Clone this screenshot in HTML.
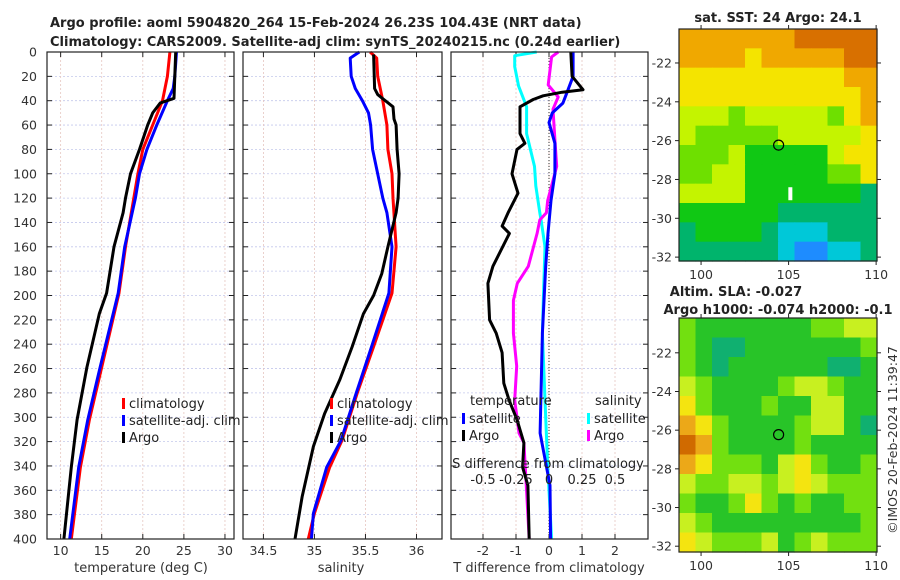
<!DOCTYPE html>
<html><head><meta charset="utf-8"><style>
body{margin:0;background:#fff}
svg{display:block;font-family:"DejaVu Sans","Liberation Sans",sans-serif}
</style></head><body>
<svg id="c" width="900" height="580" viewBox="0 0 900 580"></svg>
<script>
// ---------- data ----------
const tClimDepth=[0,20,40,60,80,100,120,160,198,259,302,341,400];
const tClimVal=[23.3,23.0,22.4,21.2,20.0,19.4,18.9,17.9,17.1,15.0,13.5,12.4,11.3];
const tSatDepth=[0,20,30,40,60,80,100,120,160,198,259,302,341,400];
const tSatVal=[24.1,23.9,23.7,23.0,21.7,20.5,19.6,19.1,17.8,17.0,14.8,13.3,12.2,11.1];
const tArgoDepth=[0,20,38,42,50,60,80,100,120,132,160,198,215,259,302,341,400];
const tArgoVal=[24.0,23.9,23.8,22.1,21.2,20.6,19.6,18.5,17.9,17.6,16.5,15.6,14.7,13.2,12.0,11.3,10.4];
const sClimDepth=[0,5,20,40,60,80,100,120,160,198,242,280,319,341,379,400];
const sClimVal=[35.545,35.61,35.62,35.67,35.71,35.72,35.76,35.77,35.8,35.76,35.58,35.42,35.27,35.15,35.0,34.94];
const sSatDepth=[0,5,20,30,40,50,60,80,100,120,132,160,198,242,280,319,341,379,400];
const sSatVal=[35.44,35.35,35.36,35.40,35.47,35.53,35.55,35.57,35.62,35.67,35.71,35.76,35.73,35.56,35.41,35.26,35.12,34.99,34.97];
const sArgoDepth=[2,30,35,45,55,60,80,100,120,132,160,182,200,215,242,269,297,324,365,400];
const sArgoVal=[35.58,35.59,35.62,35.77,35.78,35.80,35.81,35.83,35.82,35.80,35.72,35.66,35.58,35.48,35.37,35.25,35.10,34.99,34.88,34.81];
const dtSatDepth=[0,20,33,42,50,58,75,100,122,149,176,231,313,356,400];
const dtSatVal=[0.73,0.73,0.55,0.42,0.1,0,0.18,0.18,0.06,-0.03,-0.1,-0.2,-0.27,0.03,0.05];
const dtArgoDepth=[0,20,31,33,36,39,45,67,75,80,100,116,132,143,149,176,190,220,231,247,272,286,302,321,341,356,400];
const dtArgoVal=[0.66,0.7,1.03,0.4,-0.18,-0.48,-0.88,-0.88,-0.73,-0.97,-1.12,-0.94,-1.24,-1.42,-1.2,-1.7,-1.85,-1.8,-1.6,-1.42,-1.37,-1.21,-0.97,-0.76,-0.8,-0.64,-0.6];
const dsSatDepth=[0,3,12,28,45,67,94,110,132,138,160,193,231,286,340,400];
const dsSatVal=[-0.093,-0.26,-0.26,-0.23,-0.17,-0.17,-0.11,-0.1,-0.07,-0.06,-0.03,-0.04,-0.05,-0.03,-0.01,0.02];
const dsArgoDepth=[0,4,27,37,47,72,94,122,132,138,149,176,190,204,231,258,286,313,321,340,400];
const dsArgoVal=[0.07,0.02,-0.006,0.07,0.03,0.045,0.058,-0.01,-0.02,-0.07,-0.09,-0.157,-0.24,-0.27,-0.27,-0.245,-0.26,-0.227,-0.19,-0.18,-0.15];
const depthTicks=[0,20,40,60,80,100,120,140,160,180,200,220,240,260,280,300,320,340,360,380,400];
const tTicks=[10,15,20,25,30];
const sTicks=[34.5,35,35.5,36];
const dTTicks=[-2,-1,0,1,2];
const dSTicks=[-0.5,-0.25,0,0.25,0.5];
const lonTicks=[100,105,110];
const latTicks=[-22,-24,-26,-28,-30,-32];
// map grids (color class 0=blue .. 8=dark orange), 12 rows (north->south) x 12 cols (west->east)
const sstGrid=[
[7,7,7,7,7,7,7,8,8,8,8,8],
[7,7,7,7,6,7,7,7,7,7,8,8],
[6,6,6,6,6,6,6,6,6,6,7,7],
[6,6,6,6,6,6,6,6,6,6,6,7],
[5,5,5,4,5,5,5,5,5,4,6,7],
[5,4,4,4,4,4,5,5,5,5,5,6],
[4,4,4,5,3,3,3,3,3,5,6,6],
[4,4,5,5,3,3,3,3,3,4,4,6],
[5,5,5,5,3,3,3,3,3,3,3,2],
[3,3,3,3,3,3,2,2,2,2,2,2],
[2,3,3,3,3,2,1,1,1,2,2,2],
[2,2,2,2,2,2,1,0,0,1,1,2]];
const slaGrid=[
[4,3,3,3,3,3,3,3,4,4,5,5],
[4,3,2,2,3,3,3,3,3,3,3,4],
[4,3,2,3,3,3,3,3,3,2,2,3],
[5,4,3,3,3,3,4,5,5,4,3,3],
[6,4,3,3,3,4,3,3,5,5,3,3],
[7,6,4,3,3,3,3,4,5,5,3,2],
[8,7,4,3,3,3,3,4,3,3,3,3],
[7,6,4,4,4,3,5,6,4,3,3,4],
[5,4,4,5,5,4,5,6,5,4,4,4],
[4,3,3,4,6,4,3,4,3,3,4,4],
[5,4,3,3,3,3,3,3,3,3,3,4],
[6,5,4,4,4,5,3,4,5,4,4,4]];
const argoLon=104.43, argoLat=-26.23;

// ---------- helpers ----------
const NS="http://www.w3.org/2000/svg";
const svg=document.getElementById('c');
function el(tag,attrs,parent,txt){const e=document.createElementNS(NS,tag);for(const k in attrs)e.setAttribute(k,attrs[k]);if(txt!==undefined)e.textContent=txt;(parent||svg).appendChild(e);return e;}
const Y0=52,Y1=539;
const yD=d=>Y0+(d/400)*(Y1-Y0);
function lin(d0,d1,r0,r1){return v=>r0+(v-d0)/(d1-d0)*(r1-r0);}

function panel(name,x0,x1,xs,xticks,labels){
  const g=el('g',{},svg);
  
  
  depthTicks.forEach(d=>{
    const y=yD(d);
    const l=el('line',{x1:x0,x2:x1,y1:y,y2:y,stroke:'#c4c8ec','stroke-width':0.8,'stroke-dasharray':'2,2'},g);
    
    el('line',{x1:x0,x2:x0+5,y1:y,y2:y,stroke:'#222'},g);
    el('line',{x1:x1-5,x2:x1,y1:y,y2:y,stroke:'#222'},g);
  });
  xticks.forEach((t,i)=>{
    const x=xs(t);
    const l=el('line',{x1:x,x2:x,y1:Y0,y2:Y1,stroke:'#e6c6c0','stroke-width':0.8,'stroke-dasharray':'2,2'},g);
    
    el('line',{x1:x,x2:x,y1:Y1,y2:Y1-5,stroke:'#222'},g);
    el('line',{x1:x,x2:x,y1:Y0,y2:Y0+5,stroke:'#222'},g);
    const tx=el('text',{x:x,y:555,'font-size':12.5,'text-anchor':'middle',fill:'#333'},g,labels?labels[i]:String(t));
    
  });
  return g;
}
function series(g,name,depths,vals,xs,color,w){
  const p=el('polyline',{points:depths.map((d,i)=>xs(vals[i]).toFixed(1)+','+yD(d).toFixed(1)).join(' '),fill:'none',stroke:color,'stroke-width':w||3,'stroke-linejoin':'round'},g);
  
  
}
function frame(g,x0,x1){const r=el('rect',{x:x0,y:Y0,width:x1-x0,height:Y1-Y0,fill:'none',stroke:'#222','stroke-width':1.2},g);}
function txt(x,y,s,attrs,name){const t=el('text',Object.assign({x:x,y:y,'font-size':13,fill:'#222'},attrs||{}),svg,s);return t;}
function legItem(g,x,y,color,label,name){
  const r=el('rect',{x:x,y:y-9,width:3,height:11,fill:color},g);
  
  const t=el('text',{x:x+7,y:y+1,'font-size':13,fill:'#222'},g,label);
  
}

// ---------- titles ----------
txt(50,27,'Argo profile: aoml 5904820_264 15-Feb-2024 26.23S 104.43E (NRT data)',{'font-weight':'bold'},'title-line-1');
txt(50,46,'Climatology: CARS2009. Satellite-adj clim: synTS_20240215.nc (0.24d earlier)',{'font-weight':'bold'},'title-line-2');

// y-axis labels
depthTicks.forEach(d=>{const t=txt(37,yD(d)+4.5,String(d),{'text-anchor':'end','font-size':12.5,fill:'#333'},'y-tick-label');});

// ---------- panel 1: temperature ----------
const xT=lin(8.34,31.1,47,234);
const g1=panel('temperature-panel',47,234,xT,tTicks);
series(g1,'temp-climatology-line',tClimDepth,tClimVal,xT,'#ff0000');
series(g1,'temp-satellite-line',tSatDepth,tSatVal,xT,'#0000ff');
series(g1,'temp-argo-line',tArgoDepth,tArgoVal,xT,'#000000');
frame(g1,47,234);
legItem(g1,122,407,'#ff0000','climatology','legend-climatology');
legItem(g1,122,424,'#0000ff','satellite-adj. clim','legend-satellite');
legItem(g1,122,441,'#000000','Argo','legend-argo');
txt(141,572,'temperature (deg C)',{'text-anchor':'middle','font-size':13,fill:'#333'},'x-axis-title-temperature');

// ---------- panel 2: salinity ----------
const xS=lin(34.3,36.25,243,442);
const g2=panel('salinity-panel',243,442,xS,sTicks);
series(g2,'sal-climatology-line',sClimDepth,sClimVal,xS,'#ff0000');
series(g2,'sal-satellite-line',sSatDepth,sSatVal,xS,'#0000ff');
series(g2,'sal-argo-line',sArgoDepth,sArgoVal,xS,'#000000');
frame(g2,243,442);
legItem(g2,330,407,'#ff0000','climatology','legend-climatology-sal');
legItem(g2,330,424,'#0000ff','satellite-adj. clim','legend-satellite-sal');
legItem(g2,330,441,'#000000','Argo','legend-argo-sal');
txt(341,572,'salinity',{'text-anchor':'middle','font-size':13,fill:'#333'},'x-axis-title-salinity');

// ---------- panel 3: differences ----------
const xDT=lin(-2,2,483,615);
const xDS=s=>xDT(s*4);
const g3=panel('difference-panel',451,648,xDT,dTTicks);
const z=el('line',{x1:xDT(0),x2:xDT(0),y1:Y0,y2:Y1,stroke:'#333','stroke-width':1,'stroke-dasharray':'1,2'},g3);

series(g3,'dsal-satellite-line',dsSatDepth,dsSatVal,xDS,'#00ffff');
series(g3,'dsal-argo-line',dsArgoDepth,dsArgoVal,xDS,'#ff00ff');
series(g3,'dtemp-satellite-line',dtSatDepth,dtSatVal,xDT,'#0000ff');
series(g3,'dtemp-argo-line',dtArgoDepth,dtArgoVal,xDT,'#000000');
frame(g3,451,648);
txt(470,405,'temperature',{},'legend-title-temperature');
txt(595,405,'salinity',{},'legend-title-salinity');
legItem(g3,462,422,'#0000ff','satellite','legend-dtemp-satellite');
legItem(g3,462,439,'#000000','Argo','legend-dtemp-argo');
legItem(g3,587,422,'#00ffff','satellite','legend-dsal-satellite');
legItem(g3,587,439,'#ff00ff','Argo','legend-dsal-argo');
txt(548,468,'S difference from climatology',{'text-anchor':'middle'},'s-axis-title');
dSTicks.forEach(s=>txt(xDS(s),484,String(s),{'text-anchor':'middle'},'s-tick-label'));
txt(549,572,'T difference from climatology',{'text-anchor':'middle',fill:'#333'},'x-axis-title-tdiff');

// ---------- maps ----------
const pal=['#1e8cff','#00c8d8','#00b46c','#10c814','#6ee000','#c4f400','#f4e400','#f0a800','#d87000'];
const palSoft=['#1e8cff','#20c0b0','#10b070','#28c428','#72e010','#c8f020','#f4e410','#eca818','#d06a00'];
function map(name,grid,colors,x0,x1,y0,y1,latTop,latBot){
  const g=el('g',{},svg);
  
  
  const mx=lin(98.74,110.05,x0,x1), my=lin(latTop,latBot,y0,y1);
  const rows=grid.length, cols=grid[0].length;
  const cw=(x1-x0)/cols, ch=(y1-y0)/rows;
  grid.forEach((row,r)=>row.forEach((v,c)=>{
    const cell=el('rect',{x:(x0+c*cw).toFixed(2),y:(y0+r*ch).toFixed(2),width:(cw+0.6).toFixed(2),height:(ch+0.6).toFixed(2),fill:colors[v]},g);
    
    
  }));
  const r=el('rect',{x:x0,y:y0,width:x1-x0,height:y1-y0,fill:'none',stroke:'#222','stroke-width':1.2},g);
  
  lonTicks.forEach(l=>{const x=mx(l);el('line',{x1:x,x2:x,y1:y1,y2:y1+4,stroke:'#222'},g);el('line',{x1:x,x2:x,y1:y0,y2:y0-4,stroke:'#222'},g);
    const t=el('text',{x:x,y:y1+18,'font-size':12.5,'text-anchor':'middle',fill:'#333'},g,String(l));});
  latTicks.forEach(l=>{const y=my(l);el('line',{x1:x0,x2:x0-4,y1:y,y2:y,stroke:'#222'},g);el('line',{x1:x1,x2:x1+4,y1:y,y2:y,stroke:'#222'},g);
    const t=el('text',{x:x0-7,y:y+4.5,'font-size':12.5,'text-anchor':'end',fill:'#333'},g,String(l));});
  const c=el('circle',{cx:mx(argoLon),cy:my(argoLat),r:5,fill:'none',stroke:'#000','stroke-width':1.2},g);
  
  return {g,mx,my};
}
const m1=map('sst-map',sstGrid,pal,679,877,29,261,-20.25,-32.2);
const wb=el('rect',{x:m1.mx(105.1)-2,y:m1.my(-28.4),width:4,height:13,fill:'#fff'},m1.g);

txt(778,22,'sat. SST: 24 Argo: 24.1',{'text-anchor':'middle','font-weight':'bold'},'sst-map-title');
map('sla-map',slaGrid,palSoft,679,877,318,552,-20.2,-32.3);
txt(736,296,'Altim. SLA: -0.027',{'text-anchor':'middle','font-weight':'bold'},'sla-map-title');
txt(778,314,'Argo h1000: -0.074 h2000: -0.1',{'text-anchor':'middle','font-weight':'bold'},'sla-map-subtitle');
txt(0,0,'©IMOS 20-Feb-2024 11:39:47',{'text-anchor':'middle','font-size':12.5,fill:'#333',transform:'translate(897,440) rotate(-90)'},'timestamp-label');
</script>
</body></html>
